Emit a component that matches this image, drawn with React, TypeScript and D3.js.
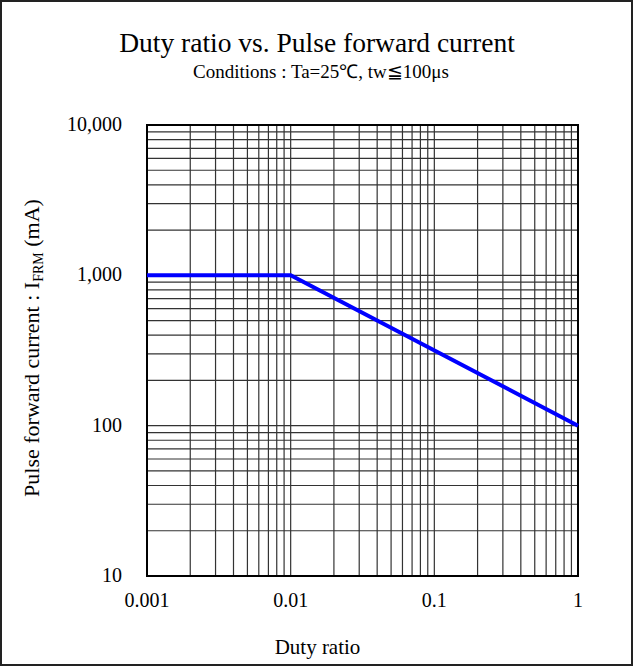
import React from "react";
import * as d3 from "d3";

const xTicks = [0.001, 0.01, 0.1, 1];
const xTickLabels = ["0.001", "0.01", "0.1", "1"];
const yTicks = [10, 100, 1000, 10000];
const yTickLabels = ["10", "100", "1,000", "10,000"];
const dutyRatio = [0.001, 0.01, 1];
const pulseCurrent = [1000, 1000, 100];

const W = 634;
const H = 667;
const FONT = "'Liberation Serif', 'Times New Roman', serif";

export default function App() {
  const x = d3.scaleLog().domain([0.001, 1]).range([147, 578]);
  const y = d3.scaleLog().domain([10, 10000]).range([576, 125]);

  const xGrid: number[] = [];
  for (let e = -3; e < 0; e++) for (let m = 1; m <= 9; m++) xGrid.push(m * Math.pow(10, e));
  xGrid.push(1);
  const yGrid: number[] = [];
  for (let e = 1; e < 4; e++) for (let m = 1; m <= 9; m++) yGrid.push(m * Math.pow(10, e));
  yGrid.push(10000);

  const line = d3
    .line<number>()
    .x((_, i) => x(dutyRatio[i]))
    .y((d) => y(d));

  return (
    <svg
      width={W}
      height={H}
      style={{ position: "absolute", left: 0, top: 0, background: "#fff" }}
    >
      <rect x={1} y={1} width={W - 3} height={H - 3} fill="#fff" stroke="#222" strokeWidth={2} />
      <text x={317} y={52} textAnchor="middle" fontFamily={FONT} fontSize={27.5}>
        Duty ratio vs. Pulse forward current
      </text>
      <text x={321} y={78} textAnchor="middle" fontFamily={FONT} fontSize={19}>
        Conditions : Ta=25℃, tw≦100μs
      </text>
      <g>
        {xGrid.map((v, i) => (
          <line key={"xg" + i} x1={x(v)} x2={x(v)} y1={y(10)} y2={y(10000)} stroke="#333" strokeWidth={1.2} />
        ))}
        {yGrid.map((v, i) => (
          <line key={"yg" + i} y1={y(v)} y2={y(v)} x1={x(0.001)} x2={x(1)} stroke="#333" strokeWidth={1.2} />
        ))}
      </g>
      <rect
        x={x(0.001)}
        y={y(10000)}
        width={x(1) - x(0.001)}
        height={y(10) - y(10000)}
        fill="none"
        stroke="#000"
        strokeWidth={2}
      />
      <path d={line(pulseCurrent) || ""} fill="none" stroke="#0000ff" strokeWidth={4} />
      {yTicks.map((v, i) => (
        <text
          key={"yt" + i}
          x={122}
          y={y(v) - 1}
          textAnchor="end"
          dominantBaseline="central"
          fontFamily={FONT}
          fontSize={20}
        >
          {yTickLabels[i]}
        </text>
      ))}
      {xTicks.map((v, i) => (
        <text
          key={"xt" + i}
          x={x(v)}
          y={607}
          textAnchor="middle"
          fontFamily={FONT}
          fontSize={20}
        >
          {xTickLabels[i]}
        </text>
      ))}
      <text x={317.5} y={654} textAnchor="middle" fontFamily={FONT} fontSize={21}>
        Duty ratio
      </text>
      <text
        transform="translate(39,348) rotate(-90)"
        textAnchor="middle"
        fontFamily={FONT}
        fontSize={22}
      >
        Pulse forward current : I
        <tspan fontSize={14} dy={4}>FRM</tspan>
        <tspan dy={-4}> (mA)</tspan>
      </text>
    </svg>
  );
}
